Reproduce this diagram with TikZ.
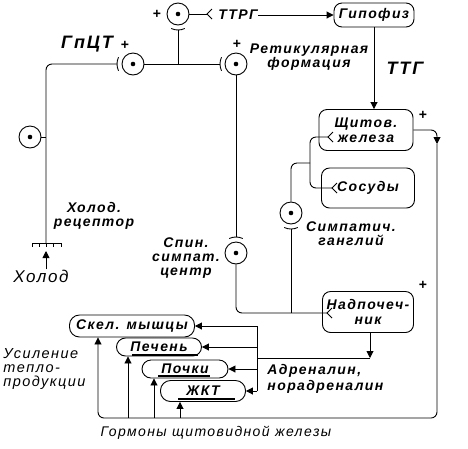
\documentclass[tikz,border=0pt]{standalone}
\usepackage{fontspec}
\newfontfamily\lab[LetterSpace=10]{Liberation Sans}
\usetikzlibrary{arrows.meta,calc}

\begin{document}
\begin{tikzpicture}[x=1pt,y=-1pt,line width=0.9pt,>={Triangle[length=7pt,width=7pt]},
  neuron/.style={circle,draw,minimum size=22pt,inner sep=0pt,
    path picture={\fill (path picture bounding box.center) circle (2.3pt);}},
  organ/.style={draw,rounded corners=8pt,align=center,inner sep=0pt,
    font=\lab\bfseries\itshape\fontsize{14}{15}\selectfont},
  lbl/.style={font=\lab\bfseries\itshape\fontsize{14}{14}\selectfont,align=center,inner sep=0pt},
  big/.style={font=\lab\bfseries\itshape\fontsize{18}{18}\selectfont,inner sep=0pt},
  txt/.style={font=\lab\itshape\fontsize{14.5}{14}\selectfont,align=left,inner sep=0pt},
  plus/.style={font=\lab\bfseries\fontsize{14}{14}\selectfont,inner sep=0pt}]
  \useasboundingbox (0,0) rectangle (468,448);
  % neurons
  \node[neuron] (ntop) at (178,14) {};
  \node[neuron] (ngpct) at (133,64) {};
  \node[neuron] (nret) at (236,64) {};
  \node[neuron] (nspin) at (236,253) {};
  \node[neuron] (ngang) at (291,213) {};
  \node[neuron] (ncold) at (30,137) {};
  % organs
  \node[organ,minimum width=80pt,minimum height=24pt] (hyp) at (374,15) {Гипофиз};
  \node[organ,minimum width=94pt,minimum height=41pt] (thyr) at (366,130) {Щитов.\\железа};
  \node[organ,minimum width=93pt,minimum height=40pt] (vess) at (368,188) {Сосуды};
  \node[organ,minimum width=91pt,minimum height=41pt] (adren) at (368,312) {Надпочеч-\\ник};
  \node[organ,rounded corners=10pt,minimum width=125pt,minimum height=22pt] (skel) at (132,326) {Скел. мышцы};
  \node[organ,rounded corners=9pt,minimum width=85pt,minimum height=18pt] (liver) at (159,347) {Печень};
  \node[organ,rounded corners=9pt,minimum width=86pt,minimum height=18pt] (kidney) at (185,369) {Почки};
  \node[organ,rounded corners=10pt,minimum width=85pt,minimum height=21pt] (gut) at (203,391) {ЖКТ};
  \draw[line width=2.5pt] (132,355) -- (198,355);
  \draw[line width=2.5pt] (158,376) -- (210,376);
  \draw[line width=2.5pt] (178,399) -- (235,399);
  % labels
  \node[big] (gpct) at (87,44) {ГпЦТ};
  \node[big] (ttg) at (405,68) {ТТГ};
  \node[lbl] (ttrg) at (238,15) {ТТРГ};
  \node[lbl] (ret) at (309,57) {Ретикулярная\\формация};
  \node[lbl] (rec) at (94,216) {Холод.\\рецептор};
  \node[lbl] (spin) at (186,258) {Спин.\\симпат.\\центр};
  \node[lbl] (gang) at (351,234) {Симпатич.\\ганглий};
  \node[lbl,align=left,anchor=west,font=\lab\bfseries\itshape\fontsize{14}{16}\selectfont] (adr) at (267,379) {Адреналин,\\норадреналин};
  \node[txt,anchor=west] (heat) at (3,369) {Усиление\\тепло-\\продукции};
  \node[txt,font=\lab\itshape\fontsize{17}{17}\selectfont] (cold) at (41,276) {Холод};
  \node[txt,font=\lab\itshape\fontsize{14}{14}\selectfont] (horm) at (216,433) {Гормоны щитовидной железы};
  \foreach \p in {(157,14),(125,45),(237,44),(423,115),(423,285)} \node[plus] at \p {+};
  % connectors
  \coordinate (f0) at (207,14);
  \coordinate (f1) at (328,137);
  \coordinate (f2) at (332,188);
  \coordinate (f3) at (327,313);
  \coordinate (c1) at (46,243);
  \draw (ntop) -- (f0);
  \draw[->] (ttrg) -- (ttrg -| hyp.west);
  \draw[->] (hyp) -- (hyp |- thyr.north);
  \draw[rounded corners=6pt] (c1) |- ($(ngpct)+(180:16)$);
  \draw (ncold) -- (ncold -| c1);
  \draw (ngpct) -- ($(nret)+(180:16)$);
  \coordinate (j1) at (ngpct -| ntop);
  \draw (j1) -- ($(ntop)+(90:16)$);
  \draw (nret) -- ($(nspin)+(270:16)$);
  \draw[rounded corners=6pt] (nspin) |- (f3);
  \coordinate (j2) at (ngang |- f3);
  \draw (j2) -- ($(ngang)+(90:16)$);
  \draw[rounded corners=6pt] (ngang) |- (310,163);
  \draw[rounded corners=6pt] (f1) -| (310,163) |- (f2);
  % synapse ends
  \draw ($(ntop)+(65:16)$) arc (65:115:16);
  \draw ($(ngpct)+(155:16)$) arc (155:205:16);
  \draw ($(nret)+(155:16)$) arc (155:205:16);
  \draw ($(nspin)+(245:16)$) arc (245:295:16);
  \draw ($(ngang)+(65:16)$) arc (65:115:16);
  \foreach \f in {f0,f1,f2,f3} \draw (\f) ++(5,-5) -- (\f) -- ++(5,5);
  % receptor
  \draw (32,243) -- (61,243);
  \foreach \x in {32,39,46,53,61} \draw (\x,243) -- (\x,247);
  \draw[->] (cold.north -| c1) -- ($(c1)+(0,8)$);
  % thyroid hormones
  \coordinate (t1) at (437,144);
  \coordinate (b1) at (98,418);
  \draw[->,rounded corners=6pt] (thyr.east) -| (t1);
  \draw[->,rounded corners=6pt] (t1) |- (b1) -- (b1 |- skel.south);
  \foreach \x/\o in {128/liver,154/kidney,180/gut} {
    \coordinate (b) at (\x,418);
    \draw[->] (b) -- (b |- \o.south);
  }
  % adrenaline
  \coordinate (a1) at (370,358);
  \coordinate (d) at (257,358);
  \draw[->] (adren.south -| a1) -- (a1);
  \draw (a1) -- (d);
  \draw (d |- skel.east) -- (d |- gut.east);
  \foreach \o in {skel,liver,kidney,gut} \draw[->] (d |- \o.east) -- (\o.east);
\end{tikzpicture}
\end{document}
